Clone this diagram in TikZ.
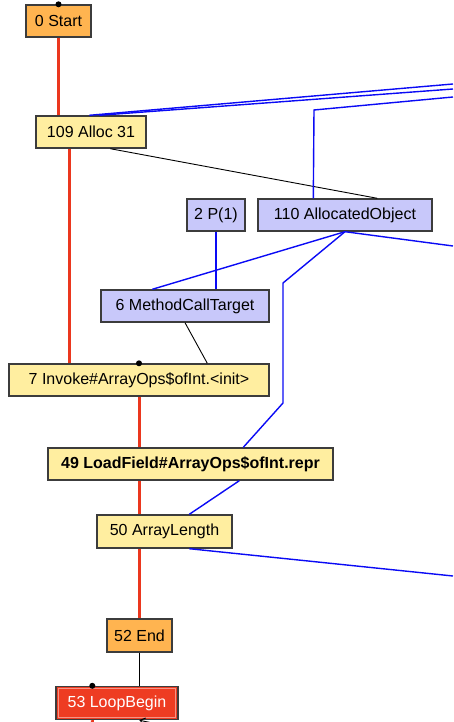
\documentclass[tikz,border=0pt]{standalone}
\usepackage{fontspec}
\setmainfont{Liberation Sans}
\usetikzlibrary{arrows.meta,calc}
\definecolor{nodeorange}{RGB}{255,180,80}
\definecolor{nodeyellow}{RGB}{255,238,160}
\definecolor{nodelilac}{RGB}{200,200,250}
\definecolor{nodered}{RGB}{238,60,34}
\definecolor{ctrlred}{RGB}{235,55,30}
\definecolor{datablue}{RGB}{10,10,245}
\definecolor{boxgrey}{RGB}{60,60,60}

\begin{document}
\begin{tikzpicture}[x=1pt, y=-1pt, font=\fontsize{16pt}{19pt}\selectfont,
    gnode/.style={rectangle, draw=boxgrey, line width=1.4pt, inner sep=0pt,
                  minimum height=32pt},
    fixed/.style={gnode, fill=nodeorange},
    floating/.style={gnode, fill=nodeyellow},
    value/.style={gnode, fill=nodelilac},
    loophead/.style={gnode, fill=nodered, text=white},
    ctrl/.style={draw=ctrlred, line width=3pt},
    usage/.style={draw=black, line width=0.9pt},
    data/.style={draw=datablue, line width=1.4pt}]
\useasboundingbox (0,0) rectangle (453,722);
% graph nodes
\node[fixed, minimum width=65pt] (start) at (58.5,21) {0 Start};
\node[floating, minimum width=110pt] (alloc) at (91,132) {109 Alloc 31};
\node[value, minimum width=58pt] (param) at (216,215) {2 P(1)};
\node[value, minimum width=174pt] (obj) at (345,215) {110 AllocatedObject};
\node[value, minimum width=168pt] (target) at (185,306) {6 MethodCallTarget};
\node[floating, minimum width=260pt] (invoke) at (139,380) {7 Invoke\#ArrayOps\$ofInt.<init>};
\node[floating, minimum width=285pt, font=\fontsize{16pt}{19pt}\selectfont\bfseries] (load) at (190.5,464) {49 LoadField\#ArrayOps\$ofInt.repr};
\node[floating, minimum width=135pt, minimum height=33pt] (len) at (164.5,531.5) {50 ArrayLength};
\node[fixed, minimum width=65pt, minimum height=33pt] (end) at (139.5,635.5) {52 End};
\node[loophead, minimum width=122pt, minimum height=33pt] (loop) at (117,703) {53 LoopBegin};
\draw[nodered!55!white, line width=0.9pt] ($(loop.north west)+(3,3)$) rectangle ($(loop.south east)+(-3,-3)$);
% free ends leaving the picture
\coordinate (outA) at (453,84);
\coordinate (outB) at (453,89);
\coordinate (outC) at (453,97);
\coordinate (outD) at (453,246);
\coordinate (outE) at (453,576);
\coordinate (outF) at (93,730);
\coordinate (backin) at (162,725);
% control flow
\draw[ctrl] (start.south) -- (start.south |- alloc.north);
\draw[ctrl] ($(alloc.south west)+(34,0)$) -- ($(invoke.north west)+(61,0)$);
\draw[ctrl] (invoke.south) -- (invoke.south |- load.north);
\draw[ctrl] (load.south -| invoke.south) -- (len.north -| invoke.south);
\draw[ctrl] (len.south -| invoke.south) -- (end.north -| invoke.south);
\draw[ctrl] ($(loop.south west)+(37,0)$) -- (outF);
% plain usages
\draw[usage] (end.south -| invoke.south) -- (loop.north -| invoke.south);
\draw[usage] ($(alloc.south west)+(75,0)$) -- ($(obj.north west)+(120,0)$);
\draw[usage] (target.south) -- ($(invoke.north west)+(199,0)$);
\draw[usage, -{Straight Barb[length=5pt,width=7pt]}] (backin) -- ($(loop.south west)+(84,0)$);
% data edges
\draw[data] ($(alloc.north west)+(54,0)$) -- (outA);
\draw[data] ($(alloc.north west)+(64,0)$) -- (outB);
\draw[data] ($(obj.north west)+(56,0)$) -- (314,110) -- (outC);
\draw[data] (param.south) -- (param.south |- target.north);
\draw[data] (obj.south) -- ($(target.north west)+(52,0)$);
\draw[data] (obj.south) -- (283,283) -- (283,403) -- ($(load.north west)+(196,0)$);
\draw[data] (obj.south) -- (outD);
\draw[data] ($(load.south west)+(192,0)$) -- ($(len.north west)+(93,0)$);
\draw[data] ($(len.south west)+(93,0)$) -- (outE);
% entry dots
\fill (start.north) circle (3pt);
\fill (invoke.north) circle (3pt);
\fill ($(loop.north west)+(37,0)$) circle (3pt);
\end{tikzpicture}
\end{document}
